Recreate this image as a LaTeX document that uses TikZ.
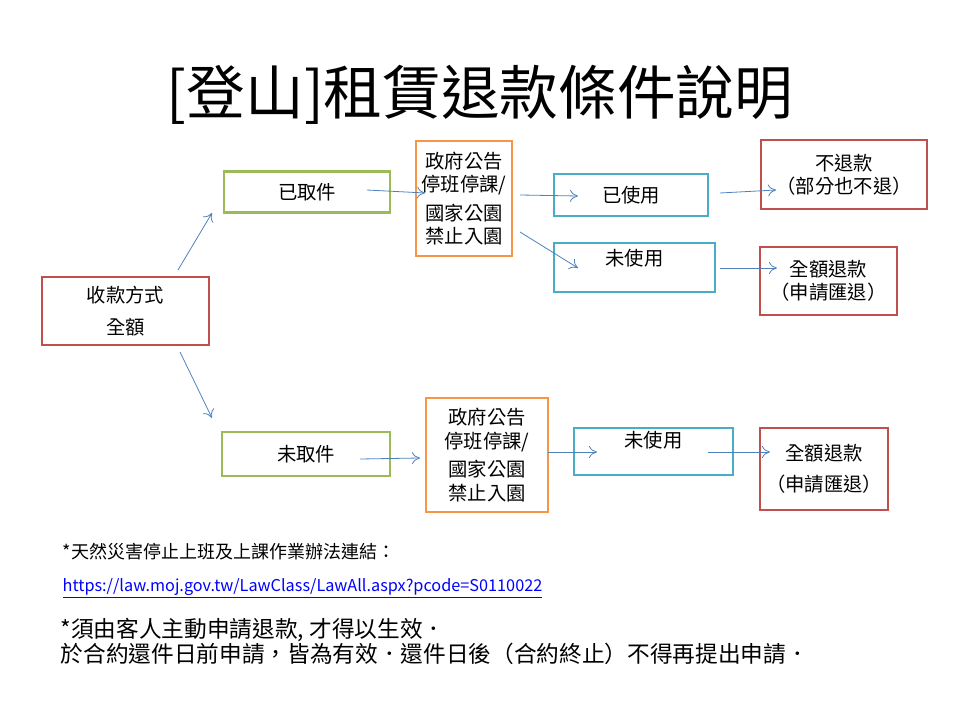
\documentclass[tikz,border=0pt]{standalone}
\usepackage{fontspec}
\setmainfont{Noto Sans CJK TC}
\usetikzlibrary{arrows.meta}
\definecolor{cred}{HTML}{C0504D}
\definecolor{cgreen}{HTML}{9BBB59}
\definecolor{corange}{HTML}{F79646}
\definecolor{cteal}{HTML}{4BACC6}
\definecolor{carrow}{HTML}{4F81BD}
\begin{document}
\begin{tikzpicture}[x=0.75pt,y=-0.75pt,
 box/.style={draw=#1,line width=2pt,inner sep=0pt,align=center,font=\fontsize{14.5}{17.5}\selectfont},
 arr/.style={carrow,line width=0.6pt,-{To[length=6pt,width=9pt]}}]
\useasboundingbox (0,0) rectangle (960,720);
\node at (480,95) {\fontsize{44}{50}\selectfont [登山]租賃退款條件說明};
\node[box=cred,minimum width=125.25pt,minimum height=51pt] (src) at (125.5,311) {收款方式\\[6pt]全額};
\node[box=cgreen,minimum width=124.5pt,minimum height=30.75pt] (g1) at (307,192) {已取件};
\node[box=cgreen,minimum width=126pt,minimum height=33pt] (g2) at (306,454) {未取件};
\node[box=corange,minimum width=72pt,minimum height=86.25pt] (o1) at (464,198.5) {政府公告\\停班停課/\\[4pt]國家公園\\禁止入園};
\node[box=corange,minimum width=91.5pt,minimum height=85.5pt] (o2) at (487,455) {政府公告\\停班停課/\\[4pt]國家公園\\禁止入園};
\node[box=cteal,minimum width=115.5pt,minimum height=31.5pt] (t1) at (631,195) {已使用};
\node[box=cteal,minimum width=120.75pt,minimum height=36.75pt] (t2) at (634.5,267.5) {未使用\\[-2pt]};
\node[box=cteal,minimum width=119.25pt,minimum height=35.25pt] (t3) at (653.5,451.5) {未使用\\[0pt]};
\node[box=cred,minimum width=124.5pt,minimum height=51.75pt] (r1) at (844,174.5) {不退款\\（部分也不退）};
\node[box=cred,minimum width=102.75pt,minimum height=51pt] (r2) at (828.5,281) {全額退款\\（申請匯退）};
\node[box=cred,minimum width=96pt,minimum height=61.5pt] (r3) at (824,469) {全額退款\\[6pt]（申請匯退）};
\coordinate (a1s) at (178,270); \coordinate (a1e) at (212,213);
\coordinate (a2s) at (180,352); \coordinate (a2e) at (212,418);
\coordinate (a3s) at (367,190); \coordinate (a3e) at (425,193);
\coordinate (a4s) at (520,195); \coordinate (a4e) at (578,196);
\coordinate (a5s) at (520,232); \coordinate (a5e) at (578,268);
\coordinate (a6s) at (720,193); \coordinate (a6e) at (776,190);
\coordinate (a7s) at (720,268); \coordinate (a7e) at (777,268);
\coordinate (a8s) at (360,459); \coordinate (a8e) at (420,458);
\coordinate (a9s) at (548,452); \coordinate (a9e) at (597,452);
\coordinate (a10s) at (708,452); \coordinate (a10e) at (770,452);
\foreach \i in {1,...,10} \draw[arr] (a\i s) -- (a\i e);
\node[anchor=west,font=\fontsize{13.5}{15}\selectfont] (n1) at (58,552) {*天然災害停止上班及上課作業辦法連結：};
\node[anchor=west,font=\fontsize{12.2}{14}\selectfont,text=blue] (n2) at (58,588) {\underline{https://law.moj.gov.tw/LawClass/LawAll.aspx?pcode=S0110022}};
\node[anchor=west,align=left,font=\fontsize{17}{17}\selectfont] (n3) at (56,641) {*須由客人主動申請退款, 才得以生效．\\於合約還件日前申請，皆為有效．還件日後（合約終止）不得再提出申請．};
\end{tikzpicture}
\end{document}
